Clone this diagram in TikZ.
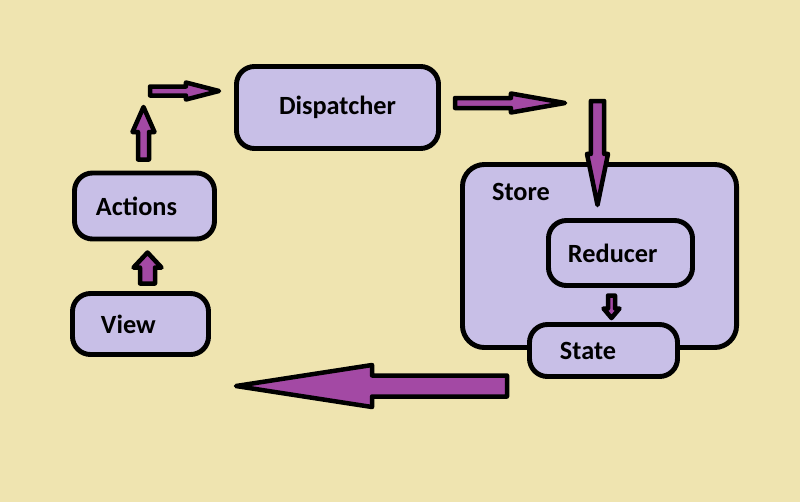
\documentclass[tikz,border=0pt]{standalone}
\usepackage{fontspec}
\setmainfont{Carlito}
\usepackage{tikz}
\usetikzlibrary{positioning, calc}

\definecolor{paper}{RGB}{239,228,176}
\definecolor{boxfill}{RGB}{200,191,231}
\definecolor{arrowfill}{RGB}{163,73,164}

% block arrow: start, tip, half shaft, half head, head length
\newcommand{\blockarrow}[5]{%
  \coordinate (hb) at ($(#2)!#5!(#1)$);
  \draw[blockarrow] ($(#1)!#3!90:(#2)$) -- ($(hb)!#3!90:(#2)$) -- ($(hb)!#4!90:(#2)$)
    -- (#2) -- ($(hb)!#4!-90:(#2)$) -- ($(hb)!#3!-90:(#2)$) -- ($(#1)!#3!-90:(#2)$) -- cycle;
}

\begin{document}
\begin{tikzpicture}[
    x=0.025cm, y=-0.025cm,
    box/.style={rectangle, rounded corners=0.45cm, draw=black, line width=3.5pt, fill=boxfill,
        font=\fontsize{18.7}{22}\selectfont\bfseries},
    lefttext/.style 2 args={align=left, inner xsep=#1, text width=#2},
    title/.style={font=\fontsize{18.7}{22}\selectfont\bfseries},
    blockarrow/.style={draw=black, fill=arrowfill, line width=3.2pt, line join=round},
]
\fill[paper] (0,0) rectangle (800,502);
\useasboundingbox (0,0) rectangle (800,502);

% boxes
\node[box, minimum width=5.05cm, minimum height=2.05cm](dispatcher) at (337.5,107.5){Dispatcher};
\node[box, lefttext={0.5375cm}{2.425cm}, minimum height=1.65cm](actions) at (144.5,206){Actions};
\node[box, lefttext={0.7125cm}{1.975cm}, minimum height=1.525cm](view) at (140.5,324){View};
\node[box, rounded corners=0.55cm, minimum width=6.85cm, minimum height=4.575cm](store) at (599.5,256){};
\node[title](storetitle) at (521,192){Store};

% arrows
\coordinate (dsa) at (455,103);
\coordinate (dsb) at (565,103);
\blockarrow{dsa}{dsb}{0.125cm}{0.2375cm}{1.35cm}
\coordinate (sra) at (597.5,101);
\coordinate (srb) at (597.5,205);
\blockarrow{sra}{srb}{0.1675cm}{0.2625cm}{1.275cm}

\node[box, lefttext={0.4875cm}{2.625cm}, minimum height=1.625cm](reducer) at (620.5,253){Reducer};
\node[box, lefttext={0.7625cm}{2.175cm}, minimum height=1.3cm](state) at (603.5,350.5){State};

\coordinate (rsa) at (611.5,295.5);
\coordinate (rsb) at (611.5,318);
\blockarrow{rsa}{rsb}{0.0875cm}{0.2cm}{0.2375cm}
\coordinate (sva) at (507,386);
\coordinate (svb) at (236,386);
\blockarrow{sva}{svb}{0.2625cm}{0.525cm}{3.4cm}
\coordinate (vaa) at (147.5,283.5);
\coordinate (vab) at (147.5,252.5);
\blockarrow{vaa}{vab}{0.1875cm}{0.35cm}{0.375cm}
\coordinate (aua) at (143.5,159.5);
\coordinate (aub) at (143.5,107);
\blockarrow{aua}{aub}{0.1375cm}{0.275cm}{0.625cm}
\coordinate (ada) at (150,91);
\coordinate (adb) at (219,91);
\blockarrow{ada}{adb}{0.1125cm}{0.2125cm}{0.825cm}
\end{tikzpicture}
\end{document}
